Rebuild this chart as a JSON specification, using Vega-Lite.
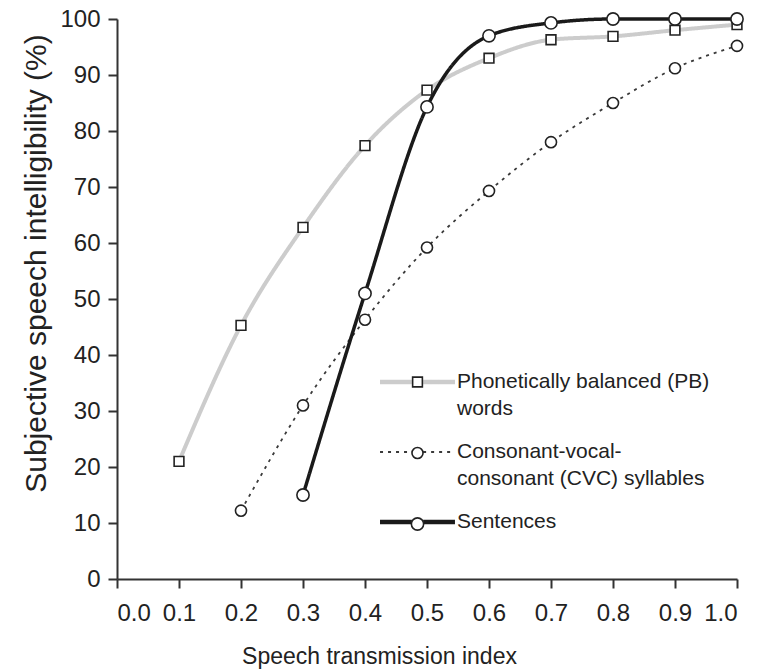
{
  "$schema": "https://vega.github.io/schema/vega-lite/v6.json",
  "width": 620,
  "height": 560,
  "autosize": {"type": "none"},
  "padding": {"left": 117, "top": 19, "right": 21, "bottom": 90},
  "background": "white",
  "config": {
    "view": {"stroke": null},
    "font": "Liberation Sans",
    "axis": {
      "grid": false,
      "domainColor": "#333333",
      "domainWidth": 2,
      "tickColor": "#333333",
      "tickWidth": 2,
      "tickSize": 9,
      "labelFont": "Liberation Sans",
      "labelFontSize": 24,
      "labelColor": "#222222",
      "titleFont": "Liberation Sans",
      "titleFontWeight": "normal",
      "titleColor": "#222222"
    },
    "legend": {
      "labelFont": "Liberation Sans",
      "labelFontSize": 21,
      "labelColor": "#222222",
      "labelLimit": 400,
      "labelOffset": 29,
      "padding": 0
    }
  },
  "data": {
    "values": [
      {"series": "Phonetically balanced (PB) words", "id": "pb", "sti": 0.1, "pct": 21.0},
      {"series": "Phonetically balanced (PB) words", "id": "pb", "sti": 0.2, "pct": 45.3},
      {"series": "Phonetically balanced (PB) words", "id": "pb", "sti": 0.3, "pct": 62.8},
      {"series": "Phonetically balanced (PB) words", "id": "pb", "sti": 0.4, "pct": 77.4},
      {"series": "Phonetically balanced (PB) words", "id": "pb", "sti": 0.5, "pct": 87.3},
      {"series": "Phonetically balanced (PB) words", "id": "pb", "sti": 0.6, "pct": 93.0},
      {"series": "Phonetically balanced (PB) words", "id": "pb", "sti": 0.7, "pct": 96.3},
      {"series": "Phonetically balanced (PB) words", "id": "pb", "sti": 0.8, "pct": 96.9},
      {"series": "Phonetically balanced (PB) words", "id": "pb", "sti": 0.9, "pct": 98.0},
      {"series": "Phonetically balanced (PB) words", "id": "pb", "sti": 1.0, "pct": 99.0},
      {"series": "Consonant-vocal-consonant (CVC) syllables", "id": "cvc", "sti": 0.2, "pct": 12.2},
      {"series": "Consonant-vocal-consonant (CVC) syllables", "id": "cvc", "sti": 0.3, "pct": 31.0},
      {"series": "Consonant-vocal-consonant (CVC) syllables", "id": "cvc", "sti": 0.4, "pct": 46.3},
      {"series": "Consonant-vocal-consonant (CVC) syllables", "id": "cvc", "sti": 0.5, "pct": 59.2},
      {"series": "Consonant-vocal-consonant (CVC) syllables", "id": "cvc", "sti": 0.6, "pct": 69.3},
      {"series": "Consonant-vocal-consonant (CVC) syllables", "id": "cvc", "sti": 0.7, "pct": 78.0},
      {"series": "Consonant-vocal-consonant (CVC) syllables", "id": "cvc", "sti": 0.8, "pct": 85.0},
      {"series": "Consonant-vocal-consonant (CVC) syllables", "id": "cvc", "sti": 0.9, "pct": 91.2},
      {"series": "Consonant-vocal-consonant (CVC) syllables", "id": "cvc", "sti": 1.0, "pct": 95.2},
      {"series": "Sentences", "id": "sen", "sti": 0.3, "pct": 15.0},
      {"series": "Sentences", "id": "sen", "sti": 0.4, "pct": 51.0},
      {"series": "Sentences", "id": "sen", "sti": 0.5, "pct": 84.3},
      {"series": "Sentences", "id": "sen", "sti": 0.6, "pct": 97.0},
      {"series": "Sentences", "id": "sen", "sti": 0.7, "pct": 99.3},
      {"series": "Sentences", "id": "sen", "sti": 0.8, "pct": 100.0},
      {"series": "Sentences", "id": "sen", "sti": 0.9, "pct": 100.0},
      {"series": "Sentences", "id": "sen", "sti": 1.0, "pct": 100.0}
    ]
  },
  "encoding": {
    "x": {
      "field": "sti",
      "type": "quantitative",
      "scale": {"domain": [0, 1], "nice": false, "zero": false},
      "axis": {
        "title": "Speech transmission index",
        "titleFontSize": 23,
        "titlePadding": 20,
        "titleX": 262,
        "values": [0, 0.1, 0.2, 0.3, 0.4, 0.5, 0.6, 0.7, 0.8, 0.9, 1.0],
        "format": ".1f",
        "labelPadding": 13
      }
    },
    "y": {
      "field": "pct",
      "type": "quantitative",
      "scale": {"domain": [0, 100], "nice": false},
      "axis": {
        "title": "Subjective speech intelligibility (%)",
        "titleFontSize": 30,
        "titlePadding": 8,
        "titleY": 244,
        "values": [0, 10, 20, 30, 40, 50, 60, 70, 80, 90, 100],
        "format": "d",
        "labelPadding": 8
      }
    }
  },
  "layer": [
    {
      "mark": {"type": "line", "interpolate": "monotone"},
      "encoding": {
        "color": {
          "field": "series",
          "type": "nominal",
          "scale": {
            "domain": ["Phonetically balanced (PB) words", "Consonant-vocal-consonant (CVC) syllables", "Sentences"],
            "range": ["#cccccc", "#3a3a3a", "#1a1a1a"]
          },
          "legend": {
            "orient": "none",
            "legendX": 290,
            "legendY": 352.5,
            "title": null,
            "rowPadding": 21,
            "symbolType": "M-6,0H-0.9M0.9,0H6",
            "symbolSize": 156,
            "labelExpr": "datum.label == 'Phonetically balanced (PB) words' ? ['Phonetically balanced (PB)', 'words'] : datum.label == 'Consonant-vocal-consonant (CVC) syllables' ? ['Consonant-vocal-', 'consonant (CVC) syllables'] : datum.label",
            "encode": {
              "symbols": {
                "update": {
                  "strokeWidth": {"signal": "datum.value == 'Consonant-vocal-consonant (CVC) syllables' ? 1.8 : 4.5"}
                }
              },
              "labels": {"update": {"lineHeight": {"value": 27}}}
            }
          }
        },
        "strokeDash": {
          "field": "series",
          "type": "nominal",
          "scale": {
            "domain": ["Phonetically balanced (PB) words", "Consonant-vocal-consonant (CVC) syllables", "Sentences"],
            "range": [[1, 0], [3, 5], [1, 0]]
          }
        },
        "strokeWidth": {
          "condition": [
            {"test": "datum.id == 'sen'", "value": 3.5},
            {"test": "datum.id == 'pb'", "value": 4}
          ],
          "value": 1.8
        }
      }
    },
    {
      "mark": {"type": "point", "filled": false, "fill": "white", "fillOpacity": 1, "stroke": "#222222", "strokeWidth": 1.6, "opacity": 1},
      "encoding": {
        "shape": {
          "field": "id",
          "type": "nominal",
          "scale": {"domain": ["pb", "cvc", "sen"], "range": ["square", "circle", "circle"]},
          "legend": {
            "orient": "none",
            "legendX": 290,
            "legendY": 352.5,
            "title": null,
            "rowPadding": 49,
            "symbolOpacity": 1,
            "symbolFillColor": "white",
            "symbolStrokeColor": "#222222",
            "symbolStrokeWidth": 1.6,
            "labelExpr": "''",
            "encode": {
              "symbols": {
                "update": {
                  "size": {"signal": "datum.value == 'pb' ? 64 : 110"}
                }
              }
            }
          }
        },
        "size": {
          "field": "id",
          "type": "ordinal",
          "scale": {"domain": ["pb", "cvc", "sen"], "range": [95, 150, 165]}
        }
      }
    }
  ]
}
